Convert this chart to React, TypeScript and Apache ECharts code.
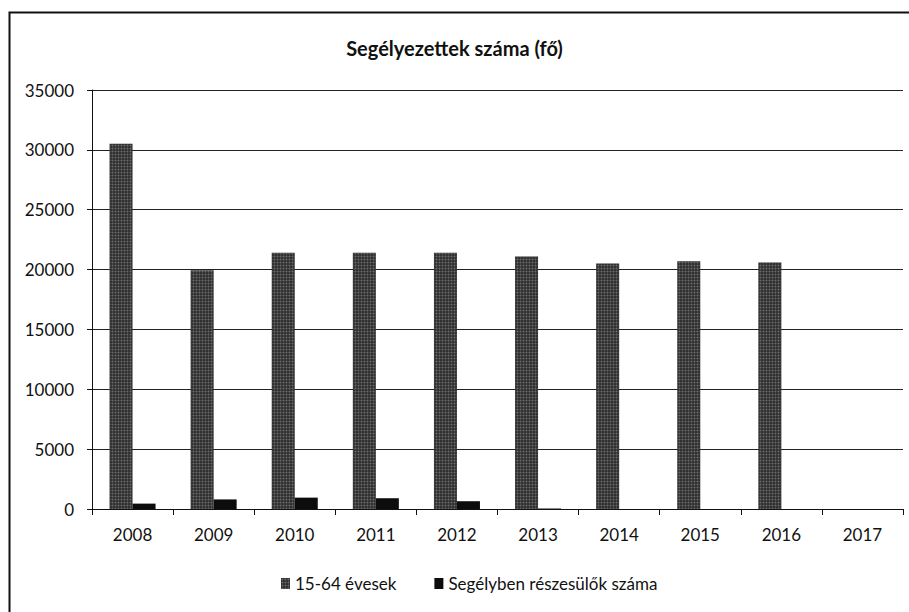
import React, { useEffect, useRef } from "react";
import * as echarts from "echarts";

const categories = ["2008", "2009", "2010", "2011", "2012", "2013", "2014", "2015", "2016", "2017"];
const seriesNames = ["15-64 évesek", "Segélyben részesülők száma"];
const aged15to64 = [30500, 19950, 21400, 21400, 21400, 21100, 20500, 20700, 20600, 0];
const recipients = [450, 800, 950, 900, 650, 40, 0, 0, 0, 0];
const yTicks = [0, 5000, 10000, 15000, 20000, 25000, 30000, 35000];
const titleText = "Segélyezettek száma (fő)";

const FONT = "Lato, 'Open Sans', sans-serif";

export default function App() {
  const ref = useRef<HTMLDivElement>(null);
  useEffect(() => {
    if (!ref.current) return;
    const chart = echarts.init(ref.current, undefined, { renderer: "svg" });
    chart.setOption({
      animation: false,
      backgroundColor: "#ffffff",
      textStyle: { fontFamily: FONT, color: "#111" },
      title: {
        text: titleText,
        left: "center",
        top: 33,
        textStyle: { fontFamily: FONT, fontSize: 20, fontWeight: "bold", color: "#111" },
      },
      graphic: [
        {
          type: "rect",
          shape: { x: 9.5, y: 12.5, width: 1000, height: 700 },
          style: { fill: "none", stroke: "#111", lineWidth: 2 },
          silent: true,
        },
      ],
      legend: {
        top: 570,
        left: 276,
        icon: "rect",
        itemWidth: 9,
        itemHeight: 11,
        itemGap: 38,
        textStyle: { fontFamily: FONT, fontSize: 17, color: "#111" },
        data: seriesNames,
      },
      grid: { left: 92, right: 6, top: 90, bottom: 103 },
      xAxis: {
        type: "category",
        data: categories,
        axisLine: { lineStyle: { color: "#111", width: 1 } },
        axisTick: { show: true, alignWithLabel: false, length: 6, lineStyle: { color: "#111" } },
        axisLabel: { fontFamily: FONT, fontSize: 17, color: "#111", margin: 17 },
      },
      yAxis: {
        type: "value",
        min: yTicks[0],
        max: yTicks[yTicks.length - 1],
        interval: 5000,
        axisLine: { show: true, lineStyle: { color: "#111", width: 1 } },
        axisTick: { show: true, inside: false, length: 5, lineStyle: { color: "#111" } },
        axisLabel: {
          fontFamily: FONT,
          fontSize: 17,
          color: "#111",
          margin: 18,
          formatter: (v: number) => String(v),
        },
        splitLine: { show: true, lineStyle: { color: "#222", width: 1 } },
      },
      series: [
        {
          name: seriesNames[0],
          type: "bar",
          data: aged15to64,
          barWidth: 23,
          barGap: "0%",
          itemStyle: {
            color: "#2e2e2e",
            decal: {
              symbol: "circle",
              symbolSize: 0.6,
              color: "rgba(160,160,160,0.55)",
              dashArrayX: [3, 0],
              dashArrayY: [3, 0],
              rotation: 0,
            },
          },
        },
        {
          name: seriesNames[1],
          type: "bar",
          data: recipients,
          barWidth: 23,
          barGap: "0%",
          itemStyle: { color: "#0c0c0c" },
        },
      ],
    });
    return () => chart.dispose();
  }, []);
  return <div ref={ref} style={{ width: 909, height: 612, position: "absolute", left: 0, top: 0 }} />;
}
